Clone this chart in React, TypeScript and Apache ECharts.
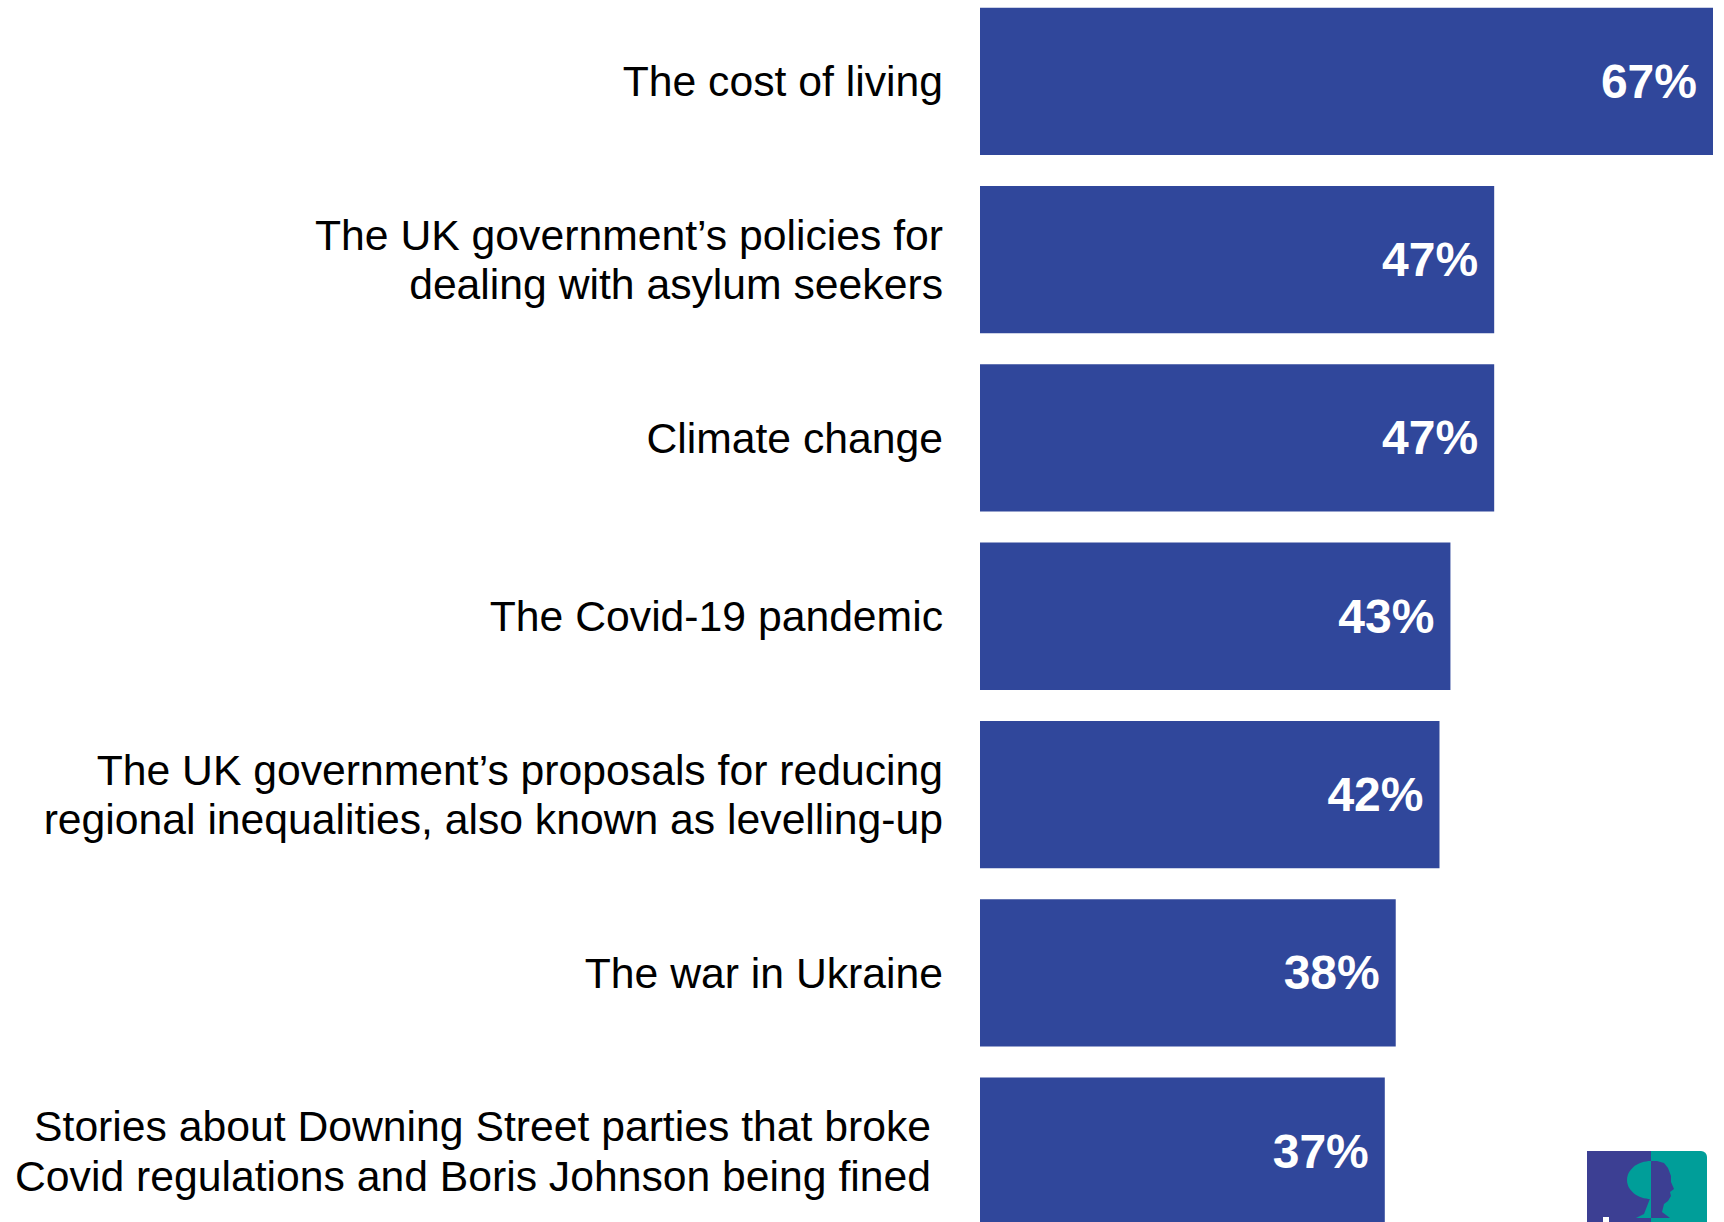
import React, { useEffect, useRef } from "react";
import * as echarts from "echarts";

const categories: string[] = [
  "The cost of living",
  "The UK government’s policies for\ndealing with asylum seekers",
  "Climate change",
  "The Covid-19 pandemic",
  "The UK government’s proposals for reducing\nregional inequalities, also known as levelling-up",
  "The war in Ukraine",
  "Stories about Downing Street parties that broke\nCovid regulations and Boris Johnson being fined",
];

const values: number[] = [67, 47, 47, 43, 42, 38, 37];

const BAR_COLOR = "#30479B";
const FONT = "'Liberation Sans', Arial, Helvetica, sans-serif";
const OFF = 10; // chart div is shifted up by this many pixels

export default function App() {
  const ref = useRef<HTMLDivElement>(null);

  useEffect(() => {
    document.body.style.margin = "0";
    document.body.style.overflow = "hidden";
    if (!ref.current) return;
    const chart = echarts.init(ref.current, undefined, { renderer: "svg" });
    const maxVal = Math.max(...values);

    const yData = categories.map((c, i) =>
      i === categories.length - 1
        ? { value: c, textStyle: { padding: [0, 12, 0, 0] } }
        : c
    );

    const Y = (v: number) => v + OFF;

    chart.setOption({
      animation: false,
      backgroundColor: "#ffffff",
      grid: {
        left: 980,
        top: Y(-7.75),
        width: 733,
        height: 1248,
        containLabel: false,
      },
      xAxis: {
        type: "value",
        min: 0,
        max: maxVal,
        show: false,
      },
      yAxis: {
        type: "category",
        inverse: true,
        data: yData,
        axisLine: { show: false },
        axisTick: { show: false },
        splitLine: { show: false },
        axisLabel: {
          margin: 37,
          fontSize: 42.7,
          lineHeight: 49.5,
          color: "#000000",
          fontFamily: FONT,
          align: "right",
        },
      },
      series: [
        {
          type: "bar",
          data: values,
          barWidth: "82.6%",
          itemStyle: { color: BAR_COLOR },
          label: {
            show: true,
            position: "insideRight",
            distance: 16,
            formatter: "{c}%",
            color: "#ffffff",
            fontSize: 48,
            fontWeight: "bold",
            fontFamily: FONT,
          },
        },
      ],
      graphic: [
        {
          type: "group",
          silent: true,
          children: [
            {
              type: "rect",
              shape: { x: 1587, y: Y(1151), width: 64, height: 90 },
              style: { fill: "#3C3F93" },
            },
            {
              type: "rect",
              shape: { x: 1651, y: Y(1151), width: 56, height: 90, r: [0, 6, 0, 0] },
              style: { fill: "#009E99" },
            },
            {
              type: "ellipse",
              shape: { cx: 1651, cy: Y(1180), rx: 24, ry: 19 },
              style: { fill: "#009E99" },
            },
            {
              type: "polygon",
              shape: {
                points: [
                  [1651, Y(1196)],
                  [1644, Y(1214)],
                  [1636, Y(1218)],
                  [1651, Y(1218)],
                ],
              },
              style: { fill: "#009E99" },
            },
            {
              type: "polygon",
              shape: {
                points: [
                  [1651, Y(1161)],
                  [1657, Y(1161)],
                  [1664, Y(1163)],
                  [1668, Y(1168)],
                  [1671, Y(1176)],
                  [1671, Y(1182)],
                  [1674, Y(1189)],
                  [1670, Y(1192)],
                  [1671, Y(1196)],
                  [1668, Y(1201)],
                  [1664, Y(1204)],
                  [1662, Y(1212)],
                  [1670, Y(1218)],
                  [1651, Y(1218)],
                ],
              },
              style: { fill: "#3C3F93" },
            },
            {
              type: "rect",
              shape: { x: 1603, y: Y(1217), width: 6, height: 20 },
              style: { fill: "#ffffff" },
            },
          ],
        },
      ],
    });

    return () => {
      chart.dispose();
    };
  }, []);

  return (
    <div
      ref={ref}
      style={{ width: 1724, height: 1260, marginTop: -OFF }}
    />
  );
}
